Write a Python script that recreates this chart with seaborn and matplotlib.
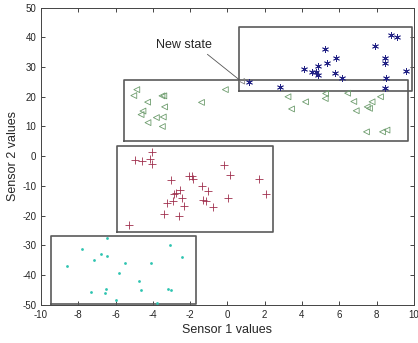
import pandas as pd
import numpy as np
import matplotlib
matplotlib.use("Agg")
import matplotlib.pyplot as plt
import seaborn as sns

# cluster 1 - cyan dots (bottom left)
cyan_x = [-6.48, -7.79, -6.80, -6.46, -7.15, -8.62, -5.50, -4.11, -3.09, -2.46,
          -5.81, -4.75, -4.64, -7.34, -6.53, -6.56, -3.16, -3.02, -5.97, -3.79]
cyan_y = [-27.4, -31.1, -32.8, -33.4, -34.9, -36.9, -35.8, -35.8, -30.0, -34.0,
          -39.3, -41.9, -45.1, -45.6, -44.7, -46.0, -44.7, -45.1, -48.2, -49.3]

# cluster 2 - red plus
red_x = [-4.02, -4.97, -4.57, -4.16, -4.02, -3.02, -2.06, -1.91, -1.84, -0.16,
         0.12, 1.69, 2.05, -1.38, -1.06, -2.52, -2.88, -2.73, -2.46, -2.91,
         -3.24, -2.32, -1.31, -1.16, 0.02, -0.75, -3.40, -2.59, -5.27]
red_y = [1.45, -1.35, -1.7, -1.0, -2.45, -7.85, -6.7, -6.7, -7.5, -2.8,
         -6.4, -7.5, -12.6, -9.9, -11.8, -11.4, -12.6, -12.4, -14.2, -15.0,
         -15.7, -16.8, -14.6, -15.2, -13.9, -17.1, -19.3, -20.2, -23.1]

# cluster 3 - green triangles
green_x = [-4.86, -5.02, -4.28, -3.51, -3.41, -3.37, -4.53, -4.63, -4.26, -3.81,
           -3.44, -3.49, -1.39, -0.11, 3.25, 4.19, 3.44, 5.27, 5.25, 6.45,
           6.78, 6.91, 7.50, 7.62, 7.76, 8.21, 7.46, 8.32, 8.56]
green_y = [22.4, 20.4, 18.2, 20.3, 20.3, 16.6, 15.2, 14.0, 11.3, 13.0,
           13.2, 10.0, 18.1, 22.4, 20.0, 18.3, 15.9, 21.1, 19.4, 21.2,
           18.4, 15.3, 16.6, 16.1, 18.3, 20.0, 8.2, 8.2, 8.8]

# cluster 4 - blue asterisks
blue_x = [1.14, 2.84, 4.09, 4.55, 4.73, 4.85, 4.85, 5.21, 5.33, 5.80,
          5.76, 6.16, 7.91, 8.76, 9.08, 8.48, 8.48, 8.52, 8.43, 9.59]
blue_y = [24.8, 23.3, 29.3, 28.4, 28.4, 30.2, 27.3, 36.0, 31.4, 33.2,
          27.9, 26.2, 37.0, 40.6, 40.0, 32.9, 31.2, 26.2, 23.0, 28.5]

# the new state point
new_x = [0.78]
new_y = [25.2]

# boxes around each state: x0, x1, y0, y1
boxes = [(0.62, 9.89, 22.1, 43.5),
         (-5.57, 9.67, 5.05, 25.8),
         (-5.91, 2.44, -25.6, 3.37),
         (-9.48, -1.71, -49.6, -26.7)]

sns.set_style("ticks", {"xtick.direction": "in", "ytick.direction": "in"})
plt.rcParams["font.family"] = ["Liberation Sans", "DejaVu Sans"]
plt.rcParams["axes.unicode_minus"] = False

fig = plt.figure(figsize=(4.18, 3.43), dpi=100)
ax = fig.add_axes([0.098, 0.111, 0.892, 0.867])

for x0, x1, y0, y1 in boxes:
    ax.plot([x0, x1, x1, x0, x0], [y0, y0, y1, y1, y0], color="#5a5a5a", lw=1.2, zorder=1)

sns.scatterplot(x=cyan_x, y=cyan_y, ax=ax, marker="o", s=4, color="#2ec4b0",
                edgecolor="#2ec4b0", linewidth=0, zorder=3)
sns.scatterplot(x=red_x, y=red_y, ax=ax, marker="+", s=30, color="#a0304e",
                linewidth=0.6, zorder=3)
sns.scatterplot(x=green_x, y=green_y, ax=ax, marker="<", s=18, facecolor="none",
                edgecolor="#6d9c6d", linewidth=0.6, zorder=3)
sns.scatterplot(x=new_x, y=new_y, ax=ax, marker="<", s=15, facecolor="none",
                edgecolor="#808080", linewidth=0.6, zorder=3)
sns.scatterplot(x=blue_x, y=blue_y, ax=ax, marker=(6, 2, 0), s=20, color="#232385",
                linewidth=0.6, zorder=3)

ax.annotate("New state", xy=(0.66, 25.6), xytext=(-3.84, 37.4),
            fontsize=9, ha="left", va="center",
            arrowprops=dict(arrowstyle="-", color="#555555", lw=0.6,
                            shrinkA=0, shrinkB=0, relpos=(0.85, 0.0)))

ax.set_xlim(-10, 10)
ax.set_ylim(-50, 50)
ax.set_xticks(np.arange(-10, 11, 2))
ax.set_yticks(np.arange(-50, 51, 10))
ax.tick_params(labelsize=7, length=3, width=0.6, top=True, right=True)
for sp in ax.spines.values():
    sp.set_linewidth(0.7)
    sp.set_color("#444444")
ax.set_xlabel("Sensor 1 values", fontsize=9, labelpad=3)
ax.set_ylabel("Sensor 2 values", fontsize=9, labelpad=2)

fig.savefig("out.png", dpi=100)
